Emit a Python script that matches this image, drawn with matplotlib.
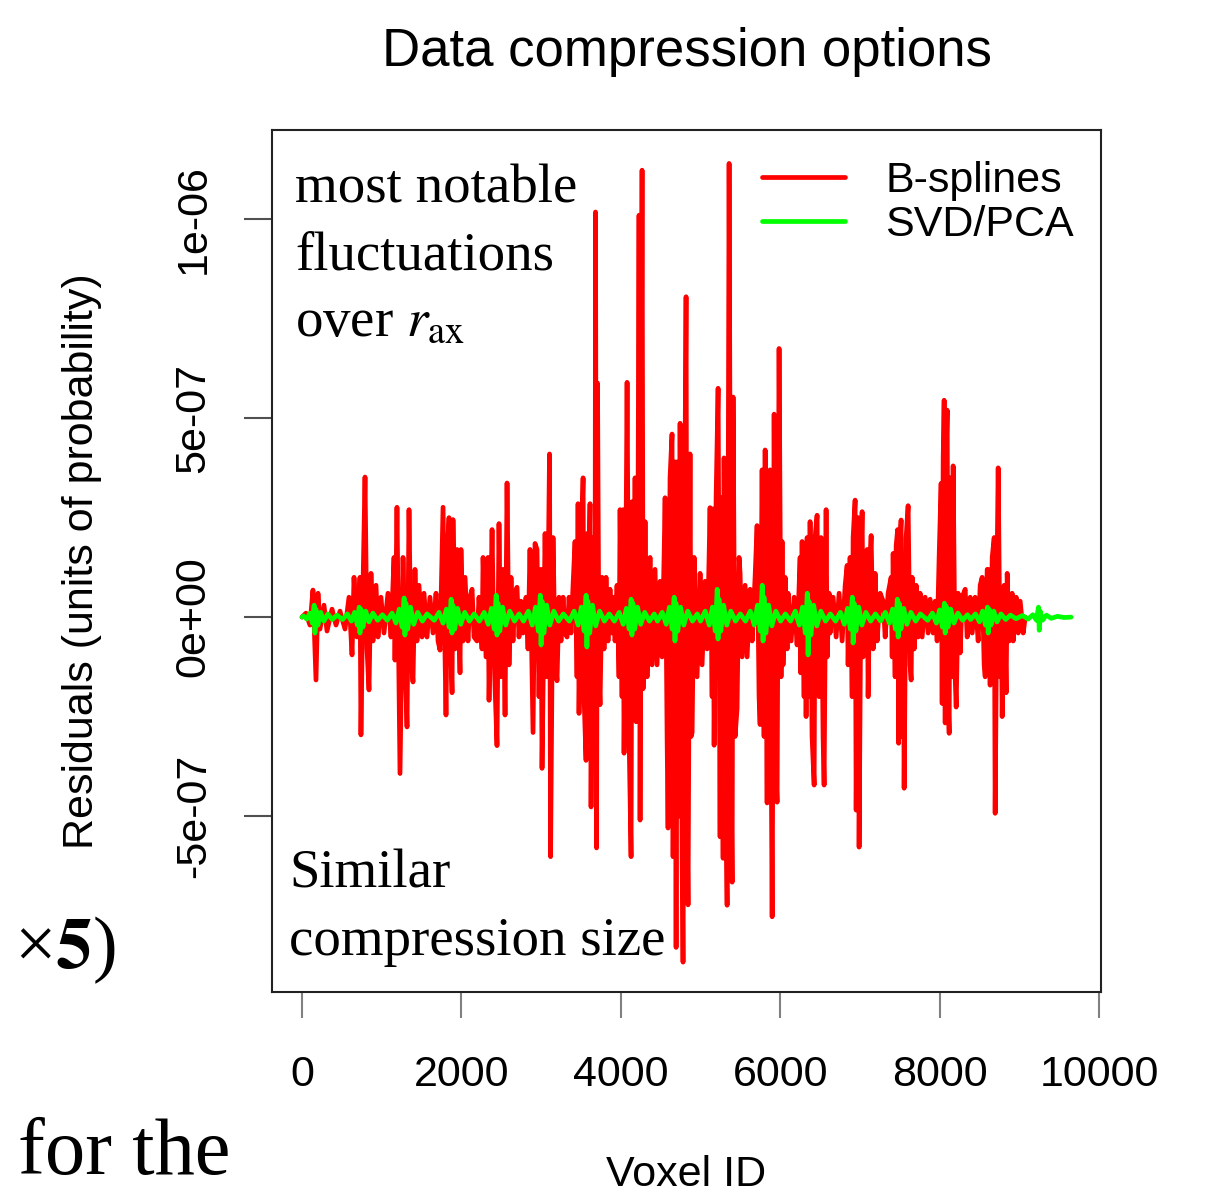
import numpy as np
import matplotlib
matplotlib.use("Agg")
import matplotlib.pyplot as plt

# ---------------- data (residuals in units of 1e-7) ----------------
red_voxel = [
    0, 50, 100, 138, 176, 201, 226, 276, 314, 377, 427, 477, 540, 590, 628, 653, 690, 728, 740, 766,
    791, 816, 841, 866, 891, 929, 954, 991, 1029, 1079, 1117, 1155, 1167, 1192, 1230, 1268, 1293, 1318, 1343, 1368,
    1393, 1418, 1443, 1468, 1506, 1531, 1569, 1606, 1644, 1682, 1707, 1732, 1757, 1770, 1795, 1807, 1832, 1845, 1870, 1883,
    1895, 1920, 1945, 1983, 1995, 2021, 2046, 2083, 2108, 2134, 2159, 2196, 2221, 2259, 2272, 2309, 2334, 2347, 2385, 2410,
    2447, 2472, 2497, 2523, 2548, 2573, 2598, 2623, 2648, 2673, 2698, 2723, 2748, 2774, 2811, 2836, 2861, 2887, 2899, 2924,
    2949, 2974, 2999, 3012, 3050, 3075, 3106, 3119, 3150, 3175, 3200, 3225, 3250, 3276, 3301, 3326, 3351, 3376, 3401, 3426,
    3451, 3464, 3476, 3501, 3527, 3539, 3564, 3577, 3589, 3602, 3614, 3627, 3652, 3677, 3683, 3696, 3708, 3727, 3740, 3765,
    3790, 3815, 3840, 3865, 3890, 3916, 3928, 3953, 3978, 3991, 4016, 4029, 4041, 4066, 4079, 4104, 4129, 4141, 4166, 4179,
    4192, 4217, 4229, 4242, 4267, 4280, 4305, 4330, 4367, 4392, 4430, 4455, 4493, 4518, 4543, 4556, 4581, 4593, 4618, 4643,
    4656, 4681, 4694, 4706, 4731, 4744, 4769, 4781, 4806, 4819, 4832, 4844, 4869, 4882, 4895, 4920, 4957, 4995, 5020, 5058,
    5083, 5108, 5120, 5146, 5158, 5171, 5196, 5221, 5246, 5258, 5284, 5296, 5321, 5334, 5359, 5384, 5397, 5409, 5434, 5459,
    5484, 5497, 5522, 5560, 5585, 5622, 5648, 5685, 5710, 5735, 5748, 5773, 5798, 5811, 5836, 5848, 5873, 5886, 5899, 5924,
    5949, 5961, 5986, 6011, 6024, 6036, 6062, 6087, 6099, 6137, 6175, 6212, 6250, 6256, 6275, 6300, 6313, 6325, 6338, 6363,
    6375, 6400, 6426, 6438, 6463, 6476, 6488, 6513, 6538, 6551, 6576, 6589, 6614, 6626, 6664, 6702, 6739, 6777, 6815, 6840,
    6852, 6877, 6903, 6915, 6940, 6953, 6978, 6990, 7015, 7028, 7041, 7066, 7091, 7103, 7128, 7141, 7166, 7191, 7216, 7254,
    7292, 7317, 7354, 7392, 7405, 7417, 7442, 7455, 7474, 7486, 7505, 7517, 7530, 7543, 7555, 7580, 7605, 7630, 7643, 7656,
    7681, 7706, 7731, 7756, 7781, 7819, 7856, 7881, 7919, 7944, 7969, 7994, 8019, 8032, 8045, 8057, 8070, 8082, 8095, 8107,
    8120, 8132, 8158, 8170, 8195, 8208, 8233, 8258, 8283, 8321, 8346, 8384, 8409, 8446, 8484, 8509, 8534, 8559, 8572, 8597,
    8609, 8634, 8660, 8685, 8697, 8722, 8735, 8760, 8772, 8785, 8810, 8835, 8848, 8873, 8910, 8923, 8961, 8986, 9011, 9049,
    9074,
]
red_resid = [
    0.0, 0.1, -0.2, 0.68, -1.58, 0.6, -0.3, 0.3, -0.35, 0.2, -0.2, 0.15, -0.3, 0.5, -0.95, 1.0, -0.5, 1.0, -2.96, 0.8,
    3.52, -0.8, -1.83, 1.1, -0.6, 0.8, -0.5, 0.5, -0.4, 0.6, -0.5, 1.5, -1.08, 2.76, -3.93, 1.5, -1.0, -2.76, 2.7, -1.0,
    -1.63, 1.2, -0.6, 0.8, -0.5, 0.6, -0.5, 0.5, -0.4, 0.6, -0.6, -0.83, 1.5, 2.76, -1.0, -2.46, 2.0, 2.5, -1.0, -1.9,
    2.45, -0.8, 1.7, -1.4, 1.7, -0.6, 1.0, -0.6, 0.5, 0.7, -0.5, -0.6, 0.5, -0.8, 1.5, -1.0, 1.5, -2.09, 2.2, -1.0,
    -3.23, 2.35, -1.5, 1.2, -2.46, 3.37, -1.2, 1.0, -0.6, 0.6, 0.75, -0.5, 0.4, -0.4, 0.5, -0.8, 1.7, -1.5, -2.9, 1.85,
    1.7, -2.0, 1.2, -3.8, 2.1, -1.5, 4.1, -6.02, 2.0, -1.0, -1.6, 0.5, -0.6, 0.5, -0.4, -0.5, 0.5, -0.4, 0.8, 1.9,
    -1.5, 2.85, -2.42, 1.5, 3.5, -2.0, -3.6, 2.1, -3.0, 1.5, 2.85, -4.77, 2.0, -2.0, 10.18, -5.8, 5.88, -1.5, -2.2, 1.0,
    -0.8, 1.0, -0.6, 0.7, -0.4, 0.5, -0.6, 0.8, -1.5, 2.7, -2.0, 2.7, -3.42, 2.0, 5.9, -3.0, -6.02, 2.9, -2.0, 3.5,
    -2.63, 3.0, 10.1, -5.1, 11.23, -1.8, 2.4, -1.5, 1.5, -1.2, 1.2, -1.2, 0.9, -1.0, 1.5, 3.0, -3.0, -5.3, 3.5, 4.6,
    -6.02, 3.9, -8.3, 3.9, -5.0, 4.87, -6.0, -8.67, 4.0, 8.05, -5.0, -7.23, 4.1, -3.0, -2.9, 1.5, -1.5, 1.1, -1.2, 0.9,
    -0.8, 1.5, 2.75, -2.0, 2.72, -3.22, 3.0, 5.75, -5.52, 3.0, -6.06, 4.0, -5.0, -7.24, 11.4, -4.0, -6.66, 5.53, -3.0, -2.3,
    1.5, 1.1, -1.0, 0.8, -1.0, 0.7, -0.6, 1.0, 2.3, -2.0, -2.7, 3.7, -3.0, 4.2, -4.67, 3.0, 3.7, -3.0, -7.53, 5.1,
    -4.0, -4.65, 6.75, -1.5, 1.9, -1.2, 1.0, -0.8, 0.6, -0.6, 0.5, -0.7, 1.5, -1.4, 1.9, -2.0, 1.5, -2.5, 2.0, -2.0,
    2.4, -3.0, -4.22, 2.0, 2.56, -1.5, -2.0, 2.0, -3.0, -4.22, 2.7, -1.0, 0.6, -0.4, 0.5, -0.5, 0.6, -0.6, 0.8, 1.3,
    -1.2, 1.5, -2.0, 2.0, 2.94, -4.85, 2.5, -5.78, 1.5, 2.65, -1.0, 1.5, 1.7, -2.0, 1.5, 2.05, -0.8, 1.1, -0.6, 0.6,
    0.4, -0.5, 0.6, 1.0, -1.0, 1.6, -1.5, 1.8, 2.2, -3.17, 2.0, 2.44, -3.0, 1.6, -4.3, 2.0, 2.8, -1.2, -1.58, 1.0,
    -0.8, 0.8, -0.5, 0.6, -0.5, 0.5, -0.4, 0.45, -0.4, 0.4, -0.6, 1.5, 3.36, -2.17, 4.0, 5.45, -2.66, 4.0, 5.2, -2.0,
    -2.92, 3.5, -1.5, 3.8, -1.5, -2.26, 0.6, -0.9, 0.5, 0.7, -0.5, 0.5, -0.4, 0.5, -0.6, 0.8, 1.0, -1.2, -1.5, 1.2,
    1.2, -1.71, 1.5, 2.0, -4.93, 1.5, 3.75, -1.5, 0.7, -2.5, 0.8, -1.9, 1.1, -0.6, 0.6, -0.6, 0.5, -0.4, 0.4, -0.4,
    0.0,
]

green_voxel = [
    1, 20, 60, 100, 130, 153, 163, 175, 200, 235, 275, 325, 380, 440,
    510, 570, 620, 660, 695, 718, 728, 740, 765, 800, 840, 890, 950, 1010,
    1070, 1130, 1180, 1220, 1257, 1282, 1292, 1304, 1327, 1362, 1402, 1452, 1512, 1570,
    1660, 1720, 1770, 1812, 1847, 1872, 1882, 1894, 1917, 1952, 1992, 2042, 2102, 2160,
    2227, 2287, 2337, 2377, 2412, 2437, 2447, 2459, 2482, 2517, 2557, 2607, 2667, 2725,
    2780, 2840, 2890, 2930, 2965, 2990, 3000, 3012, 3035, 3070, 3110, 3160, 3220, 3280,
    3355, 3415, 3465, 3505, 3540, 3565, 3575, 3587, 3610, 3645, 3685, 3735, 3795, 3855,
    3920, 3980, 4030, 4070, 4105, 4130, 4140, 4152, 4175, 4210, 4250, 4300, 4360, 4420,
    4460, 4520, 4570, 4610, 4645, 4670, 4680, 4692, 4715, 4750, 4790, 4840, 4900, 4960,
    5000, 5060, 5110, 5150, 5185, 5210, 5220, 5232, 5255, 5290, 5330, 5380, 5440, 5500,
    5565, 5625, 5675, 5715, 5750, 5775, 5785, 5797, 5820, 5855, 5895, 5945, 6005, 6065,
    6130, 6190, 6240, 6280, 6315, 6340, 6350, 6362, 6385, 6420, 6460, 6510, 6570, 6630,
    6695, 6755, 6805, 6845, 6880, 6905, 6915, 6927, 6950, 6985, 7025, 7075, 7135, 7195,
    7260, 7320, 7370, 7410, 7445, 7470, 7480, 7492, 7515, 7550, 7590, 7640, 7700, 7760,
    7850, 7910, 7960, 8000, 8035, 8060, 8070, 8082, 8105, 8140, 8180, 8230, 8290, 8350,
    8390, 8450, 8500, 8540, 8575, 8600, 8610, 8622, 8645, 8680, 8720, 8770, 8830, 8890,
    8960, 9040, 9110, 9170, 9215, 9240, 9250, 9262, 9290, 9340, 9400, 9480, 9560, 9650,
]
green_resid = [
    0.0, 0.03, -0.05, 0.1, -0.15, 0.3, -0.4, 0.2, -0.2, 0.12, -0.1, 0.08, -0.06, 0.05,
    -0.06, 0.08, -0.1, 0.12, -0.2, 0.25, -0.4, 0.2, -0.25, 0.15, -0.12, 0.1, -0.08, 0.06,
    -0.08, 0.1, -0.15, 0.2, -0.25, 0.48, -0.45, 0.35, -0.3, 0.25, -0.18, 0.12, -0.1, 0.08,
    -0.08, 0.12, -0.15, 0.2, -0.25, 0.45, -0.4, 0.3, -0.3, 0.22, -0.18, 0.12, -0.1, 0.08,
    -0.1, 0.12, -0.18, 0.22, -0.3, 0.55, -0.45, 0.35, -0.35, 0.25, -0.2, 0.15, -0.1, 0.08,
    -0.1, 0.15, -0.2, 0.25, -0.35, 0.55, -0.7, 0.4, -0.4, 0.3, -0.2, 0.15, -0.1, 0.08,
    -0.1, 0.15, -0.2, 0.25, -0.35, 0.55, -0.75, 0.4, -0.4, 0.3, -0.22, 0.15, -0.1, 0.08,
    -0.1, 0.12, -0.18, 0.22, -0.3, 0.45, -0.45, 0.35, -0.3, 0.25, -0.18, 0.12, -0.1, 0.08,
    -0.1, 0.12, -0.18, 0.25, -0.3, 0.5, -0.6, 0.35, -0.35, 0.25, -0.2, 0.15, -0.1, 0.08,
    -0.1, 0.15, -0.2, 0.25, -0.35, 0.7, -0.55, 0.45, -0.35, 0.3, -0.2, 0.15, -0.1, 0.08,
    -0.1, 0.15, -0.2, 0.3, -0.35, 0.8, -0.6, 0.5, -0.4, 0.3, -0.22, 0.15, -0.1, 0.08,
    -0.1, 0.15, -0.2, 0.25, -0.4, 0.6, -0.95, 0.4, -0.45, 0.3, -0.22, 0.15, -0.1, 0.08,
    -0.1, 0.12, -0.18, 0.22, -0.3, 0.5, -0.65, 0.35, -0.35, 0.25, -0.2, 0.12, -0.1, 0.08,
    -0.1, 0.12, -0.15, 0.2, -0.3, 0.45, -0.5, 0.35, -0.3, 0.22, -0.18, 0.12, -0.1, 0.08,
    -0.08, 0.1, -0.15, 0.18, -0.25, 0.35, -0.4, 0.28, -0.25, 0.2, -0.15, 0.1, -0.08, 0.06,
    -0.06, 0.08, -0.12, 0.15, -0.2, 0.25, -0.4, 0.2, -0.2, 0.15, -0.12, 0.08, -0.06, 0.05,
    -0.04, 0.04, -0.05, 0.06, -0.08, 0.25, -0.33, 0.15, -0.08, 0.05, -0.03, 0.02, -0.01, 0.0,
]
resid_unit = 1e-7

series_labels = ["B-splines", "SVD/PCA"]
series_colors = ["#FF0000", "#00FF00"]
x_ticks = [0, 2000, 4000, 6000, 8000, 10000]
y_ticks = [-5e-7, 0.0, 5e-7, 1e-6]
y_tick_labels = ["-5e-07", "0e+00", "5e-07", "1e-06"]

# ---------------- figure ----------------
W, H = 1216, 1194
plt.rcParams["font.family"] = ["Liberation Sans", "DejaVu Sans"]
plt.rcParams["mathtext.fontset"] = "stix"
fig = plt.figure(figsize=(W / 100, H / 100), dpi=100)
ax = fig.add_axes([272 / W, 1 - 992 / H, (1101 - 272) / W, (992 - 130) / H])

rx = np.array(red_voxel)
ry = np.array(red_resid) * resid_unit
gx = np.array(green_voxel)
gy = np.array(green_resid) * resid_unit

ax.plot(rx, ry, color=series_colors[0], lw=3.4, solid_joinstyle="round",
        solid_capstyle="round", label=series_labels[0], zorder=2)
ax.plot(gx, gy, color=series_colors[1], lw=3.4, solid_joinstyle="round",
        solid_capstyle="round", label=series_labels[1], zorder=3)

ax.set_xlim(-376, 10025)
ax.set_ylim(-0.942e-6, 1.224e-6)

ax.set_xticks(x_ticks)
ax.set_xticklabels([str(t) for t in x_ticks])
ax.set_yticks(y_ticks)
ax.set_yticklabels(y_tick_labels, rotation=90, va="center")

ax.tick_params(axis="x", direction="out", length=19, width=1.5, color="#808080",
               labelsize=31, pad=26)
ax.tick_params(axis="y", direction="out", length=20, width=1.5, color="#505050",
               labelsize=31, pad=22)
for sp in ax.spines.values():
    sp.set_color("#222222")
    sp.set_linewidth(1.5)

ax.set_title("Data compression options", fontsize=38, pad=46)
ax.set_xlabel("Voxel ID", fontsize=31)
ax.xaxis.set_label_coords(0.5, -0.189)
ax.set_ylabel("Residuals (units of probability)", fontsize=31)
ax.yaxis.set_label_coords(-0.205, 0.5)

leg = ax.legend(loc="upper left", bbox_to_anchor=(762 / W, 1 - 161 / H),
                bbox_transform=fig.transFigure, frameon=False, fontsize=31,
                handlelength=1.93, handletextpad=0.93, labelspacing=0.1,
                borderpad=0, borderaxespad=0)

# ---------------- overlaid document text ----------------
serif = ["Liberation Serif", "DejaVu Serif"]
def ftxt(px, py, s, size, **kw):
    fig.text(px / W, 1 - py / H, s, fontsize=size, family=serif,
             va="baseline", ha="left", **kw)

ftxt(295, 203, "most notable", 39.5)
ftxt(295, 270, "fluctuations", 39.5)
ftxt(295, 336, r"over $r_{\mathrm{ax}}$", 39.5)
ftxt(289, 888, "Similar", 39.5)
ftxt(289, 955, "compression size", 39.5)
ftxt(14, 968, r"×$\mathbf{5}$)", 53)
ftxt(18, 1174, "for the", 58)

fig.savefig("out.png", dpi=100)
